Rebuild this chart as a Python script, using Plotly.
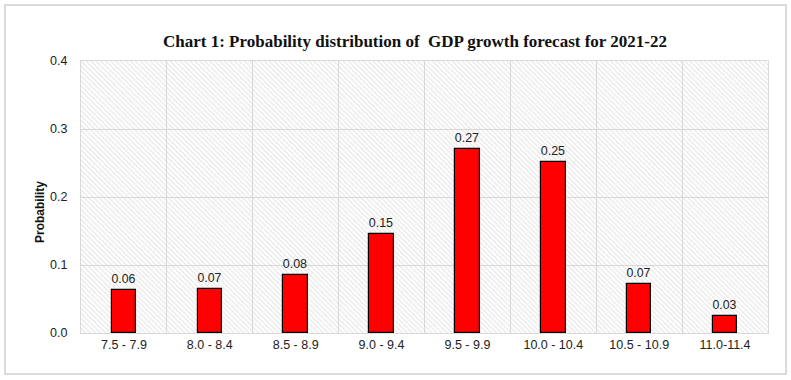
import plotly.graph_objects as go

categories = ["7.5 - 7.9", "8.0 - 8.4", "8.5 - 8.9", "9.0 - 9.4", "9.5 - 9.9",
              "10.0 - 10.4", "10.5 - 10.9", "11.0-11.4"]
probability = [0.063, 0.065, 0.085, 0.145, 0.271, 0.252, 0.072, 0.025]
value_labels = ["0.06", "0.07", "0.08", "0.15", "0.27", "0.25", "0.07", "0.03"]
y_max = 0.4

W, H = 791, 380
L, R, T, B = 81, 23, 61, 47
pw, ph = W - L - R, H - T - B

def px_x(px):
    return (px - L) / pw

def px_y(py):
    return (H - B - py) / ph

fig = go.Figure()

# hatched plot-area background
fig.add_trace(go.Bar(
    x=categories, y=[y_max] * len(categories), width=1,
    marker=dict(color="#d0d0d0", line=dict(width=0),
                pattern=dict(shape="\\", size=3.5, solidity=0.35,
                             fgcolor="#d0d0d0", bgcolor="rgba(0,0,0,0)")),
    hoverinfo="skip", showlegend=False,
))

fig.add_trace(go.Bar(
    x=categories, y=probability, width=0.285,
    marker=dict(color="#ff0000", line=dict(color="#000000", width=1.2)),
    text=value_labels, textposition="outside", cliponaxis=False,
    textfont=dict(family="Liberation Sans", size=12.5, color="#222222"),
    showlegend=False,
))

fig.update_layout(
    width=W, height=H,
    margin=dict(l=L, r=R, t=T, b=B),
    paper_bgcolor="white", plot_bgcolor="white",
    barmode="overlay", bargap=0,
    font=dict(family="Liberation Sans", size=12.5, color="#222222"),
    title=dict(text="<b>Chart 1: Probability distribution of  GDP growth forecast for 2021-22</b>",
               x=px_x(415), xref="paper", xanchor="center",
               y=1 - 41 / H, yref="container", yanchor="middle",
               font=dict(family="Liberation Serif", size=17, color="#111111")),
    xaxis=dict(type="category", tickson="boundaries", showgrid=True,
               gridcolor="#d9d9d9", gridwidth=1,
               showline=True, mirror=True, linecolor="#d9d9d9", linewidth=1,
               ticks="outside", ticklen=9, tickcolor="rgba(0,0,0,0)",
               tickfont=dict(size=12.5), range=[-0.5, len(categories) - 0.5]),
    yaxis=dict(range=[0, y_max], dtick=0.1, tickformat=".1f",
               showgrid=True, gridcolor="#d9d9d9", gridwidth=1,
               showline=True, mirror=True, linecolor="#d9d9d9", linewidth=1,
               ticks="outside", ticklen=10, tickcolor="rgba(0,0,0,0)",
               tickfont=dict(size=12.5), zeroline=False),
    annotations=[dict(text="<b>Probability</b>", textangle=-90,
                      x=px_x(40), y=px_y(212), xref="paper", yref="paper",
                      xanchor="center", yanchor="middle",
                      showarrow=False, font=dict(size=12, color="#111111"))],
    shapes=[dict(type="rect", xref="paper", yref="paper",
                 x0=px_x(5), x1=px_x(786), y0=px_y(374), y1=px_y(5),
                 line=dict(color="#cfcfcf", width=1.5), layer="below")],
)

fig.write_html("out.html", config={"displayModeBar": False},
               post_script="document.body.style.margin='0px';")
